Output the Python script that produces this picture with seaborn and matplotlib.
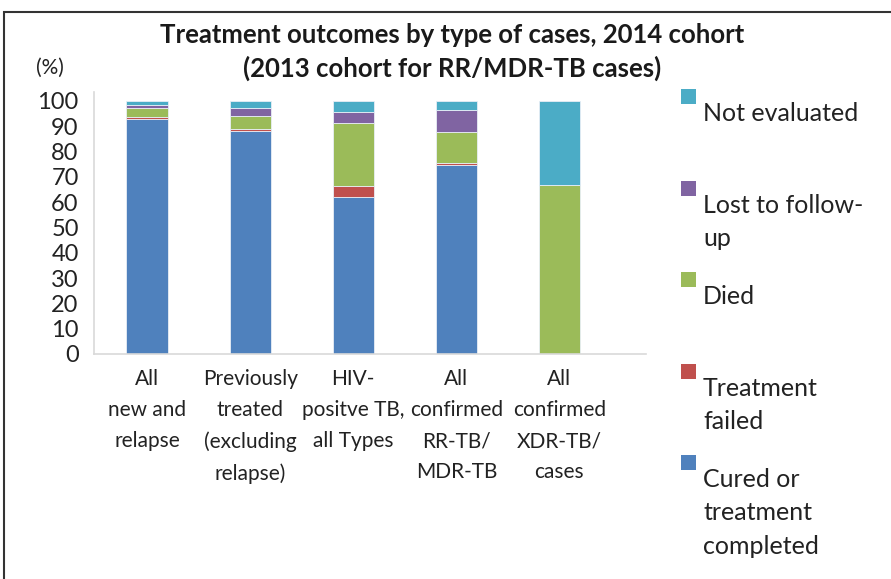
import numpy as np
import pandas as pd
import seaborn as sns
import matplotlib.pyplot as plt
from matplotlib.patches import Rectangle

sns.set_style('white')
plt.rcParams['font.family'] = ['Lato', 'DejaVu Sans']

categories = [
    'All\nnew and\nrelapse',
    'Previously\ntreated\n(excluding\nrelapse)',
    'HIV-\npositve TB,\nall Types',
    'All\nconfirmed\nRR-TB/\nMDR-TB',
    'All\nconfirmed\nXDR-TB/\ncases',
]
outcomes = ['Cured or\ntreatment\ncompleted', 'Treatment\nfailed', 'Died',
            'Lost to follow-\nup', 'Not evaluated']
cured = [92.8, 88.1, 62.2, 74.7, 0.0]
failed = [0.8, 0.8, 4.3, 0.7, 0.0]
died = [3.6, 5.1, 24.7, 12.3, 66.7]
lost = [1.2, 3.0, 4.3, 8.5, 0.0]
not_evaluated = [1.6, 3.0, 4.5, 3.8, 33.3]
colors = ['#4F81BD', '#C0504D', '#9BBB59', '#8064A2', '#4BACC6']

series = [cured, failed, died, lost, not_evaluated]

fig = plt.figure(figsize=(8.91, 5.79), dpi=100)
ax = fig.add_axes([94 / 891, 1 - 354 / 579, (646 - 94) / 891, (354 - 92) / 579])

bottom = np.zeros(len(categories))
for vals, col in zip(series, colors):
    df = pd.DataFrame({'cat': categories, 'val': vals})
    sns.barplot(data=df, x='cat', y='val', color=col, bottom=bottom, width=0.4,
                edgecolor='#e8eef6', linewidth=0.6, saturation=1, ax=ax)
    bottom = bottom + np.array(vals)

ax.set_xlim(-0.515, 4.84)
ax.set_ylim(0, 103.5)
ax.set_yticks(range(0, 101, 10))
ax.set_xlabel('')
ax.set_ylabel('')
ax.tick_params(axis='y', length=0, pad=11, labelsize=17, colors='#222222')
ax.tick_params(axis='x', length=0, pad=11, labelsize=15, colors='#222222')
for lbl in ax.get_xticklabels():
    lbl.set_linespacing(1.68)
    lbl.set_verticalalignment('top')
for side in ['top', 'right']:
    ax.spines[side].set_visible(False)
for side in ['left', 'bottom']:
    ax.spines[side].set_color('#d9d9d9')
    ax.spines[side].set_linewidth(1.2)

fig.text(452 / 891, 1 - 35 / 579, 'Treatment outcomes by type of cases, 2014 cohort',
         ha='center', va='center', fontsize=18.5, fontweight='bold', color='#1a1a1a')
fig.text(452 / 891, 1 - 68 / 579, '(2013 cohort for RR/MDR-TB cases)',
         ha='center', va='center', fontsize=18.5, fontweight='bold', color='#1a1a1a')
fig.text(50 / 891, 1 - 68 / 579, '(%)', ha='center', va='center', fontsize=15,
         color='#222222')

# legend, drawn by hand to copy the layout (square above-left of the text)
legend_y = [89, 181, 272, 364, 455]
for name, col, y in zip(outcomes[::-1], colors[::-1], legend_y):
    fig.patches.append(Rectangle((681 / 891, 1 - (y + 15) / 579), 15 / 891, 15 / 579,
                                 transform=fig.transFigure, facecolor=col,
                                 edgecolor='none'))
    fig.text(703 / 891, 1 - (y + 13) / 579, name, ha='left', va='top', fontsize=18,
             color='#222222', linespacing=1.55)

# outer frame
fig.patches.append(Rectangle((4 / 891, -0.05), 1.2, 1 - 12 / 579 + 0.05,
                             transform=fig.transFigure, facecolor='none',
                             edgecolor='#333333', linewidth=1.5))

fig.savefig('out.png', dpi=100)
